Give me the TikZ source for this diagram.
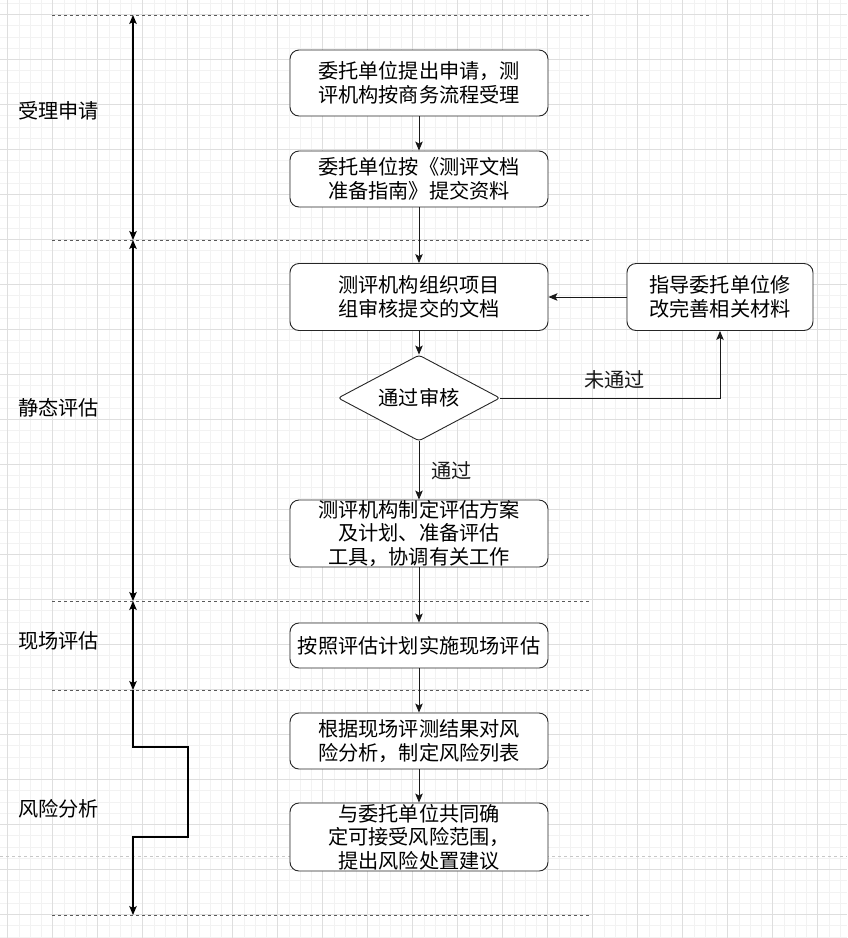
\documentclass[tikz,border=0pt]{standalone}
\usepackage{fontspec}
\setmainfont{Noto Sans CJK SC}
\usetikzlibrary{arrows.meta,shapes.geometric,positioning}

\begin{document}
\begin{tikzpicture}[x=1pt,y=-1pt,
  procbox/.style={rectangle,rounded corners=9pt,draw=black!85,line width=0.9pt,fill=white,minimum width=258pt,align=center,inner sep=0pt,font=\fontsize{20.2}{23.5}\selectfont},
  checkbox/.style={diamond,rounded corners=3pt,draw=black!85,line width=0.9pt,fill=white,minimum width=162pt,minimum height=86pt,aspect=2,inner sep=0pt,font=\fontsize{20.2}{23.5}\selectfont},
  stagetext/.style={anchor=west,inner sep=0pt,font=\fontsize{20.2}{23.5}\selectfont},
  flowtext/.style={inner sep=0pt,font=\fontsize{20.2}{23.5}\selectfont},
  flow/.style={-{Stealth[length=9pt,width=7.5pt,inset=2pt]},line width=1pt,black!90},
  stagearrow/.style={line width=1.1pt,black},
  stagetip/.style={{Stealth[length=9pt,width=7.5pt,inset=2pt]}-{Stealth[length=9pt,width=7.5pt,inset=2pt]},line width=1.1pt,black},
  sepline/.style={dashed,dash pattern=on 3pt off 3pt,line width=0.9pt,black!65},
  gridminor/.style={line width=0.6pt,black!5},
  gridmajor/.style={line width=0.6pt,black!13}]

\useasboundingbox (0,0) rectangle (847,938);
\fill[white] (0,0) rectangle (847,938);

% background grid
\foreach \i in {0,...,75} \draw[gridminor] ({-3.7+\i*11.25},0) -- ({-3.7+\i*11.25},938);
\foreach \i in {0,...,83} \draw[gridminor] (0,{3.05+\i*11.25}) -- (847,{3.05+\i*11.25});
\foreach \i in {0,...,18} \draw[gridmajor] ({7.3+\i*45},0) -- ({7.3+\i*45},938);
\foreach \i in {0,...,20} \draw[gridmajor] (0,{14.3+\i*45}) -- (847,{14.3+\i*45});
\draw[dashed,dash pattern=on 3pt off 3pt,line width=0.9pt,black!22] (0,856) -- (847,856);

% stage separators
\foreach \y in {15,240,601,690,915} \draw[sepline] (52,\y) -- (590,\y);

\coordinate (s1) at (133,15);
\coordinate (s2) at (133,240);
\coordinate (s3) at (133,601);
\coordinate (s4) at (133,690);
\coordinate (s5) at (133,915);

\draw[stagetip] (s1) -- (s2);
\draw[stagetip] (s2) -- (s3);
\draw[stagetip] (s3) -- (s4);
\draw[stagearrow,-{Stealth[length=9pt,width=7.5pt,inset=2pt]}] (s4) -- ++(0,57) -- ++(55,0) -- ++(0,90) -- ++(-55,0) -- (s5);

\node[stagetext] (lab1) at (18,111) {受理申请};
\node[stagetext] (lab2) at (18,408) {静态评估};
\node[stagetext] (lab3) at (18,641) {现场评估};
\node[stagetext] (lab4) at (18,809) {风险分析};

% process
\node[procbox,minimum height=66pt] (b1) at (419,83) {委托单位提出申请，测\\评机构按商务流程受理};
\node[procbox,minimum height=56pt] (b2) at (419,179) {委托单位按《测评文档\\准备指南》提交资料};
\node[procbox,minimum height=67pt] (b3) at (419,297) {测评机构组织项目\\组审核提交的文档};
\node[checkbox] (chk) at (419,398) {通过审核};
\node[procbox,minimum width=186pt,minimum height=67pt] (fix) at (720,297) {指导委托单位修\\改完善相关材料};
\node[procbox,minimum height=67pt] (b4) at (419,533.5) {测评机构制定评估方案\\及计划、准备评估\\工具，协调有关工作};
\node[procbox,minimum height=45pt] (b5) at (419,645.5) {按照评估计划实施现场评估};
\node[procbox,minimum height=56pt] (b6) at (419,741) {根据现场评测结果对风\\险分析，制定风险列表};
\node[procbox,minimum height=68pt] (b7) at (419,837) {与委托单位共同确\\定可接受风险范围，\\提出风险处置建议};

\draw[flow] (b1) -- (b2);
\draw[flow] (b2) -- (b3);
\draw[flow] (b3) -- (chk);
\draw[flow] (chk) -- node[flowtext,right=12pt] (pass) {通过} (b4);
\draw[flow] (chk.east) -| node[flowtext,pos=0.26,above=8pt] (nopass) {未通过} (fix.south);
\draw[flow] (fix) -- (b3);
\draw[flow] (b4) -- (b5);
\draw[flow] (b5) -- (b6);
\draw[flow] (b6) -- (b7);

\end{tikzpicture}
\end{document}
